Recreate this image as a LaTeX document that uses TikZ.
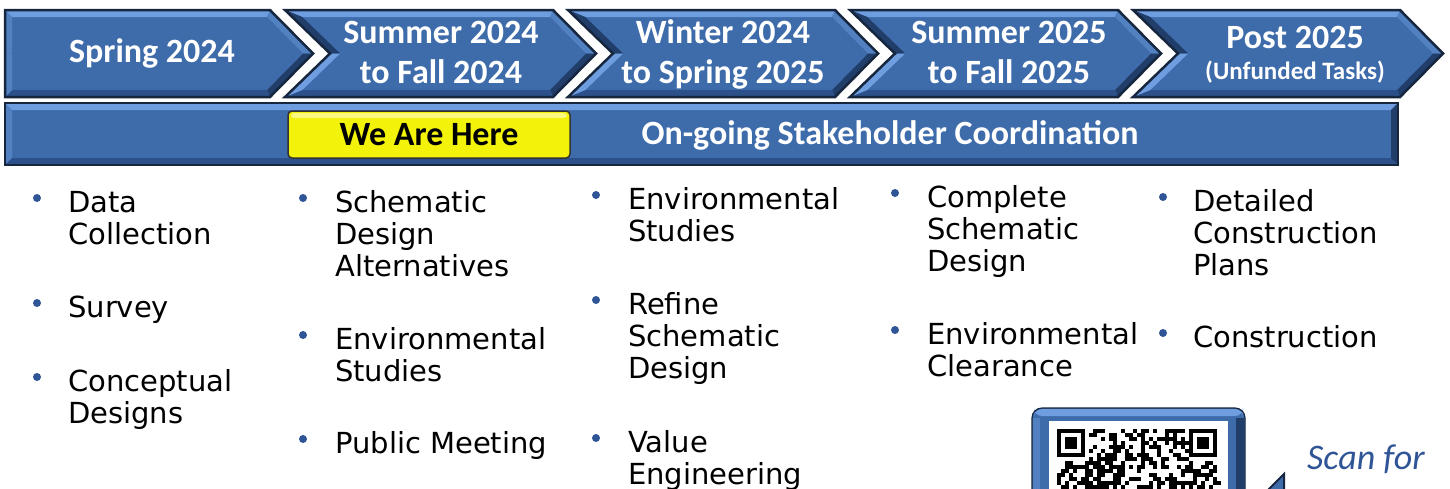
\documentclass[tikz,border=0pt]{standalone}
\usepackage{fontspec}
\setmainfont{DejaVu Sans}
\newfontfamily\hdrfont{Carlito}
\definecolor{cmain}{HTML}{3E6CAB}
\definecolor{clight}{HTML}{6E9EDF}
\definecolor{cmid}{HTML}{5281C2}
\definecolor{cdark}{HTML}{2C5089}
\definecolor{cdarker}{HTML}{213E6B}
\definecolor{cline}{HTML}{17263F}
\definecolor{cbullet}{HTML}{2F5597}
\definecolor{cyel}{HTML}{F2F20A}
\definecolor{cyellight}{HTML}{FAFA80}
\definecolor{cscan}{HTML}{2F5597}
\newcommand\mychev[5]{%
 \pgfmathsetmacro\cL{#1}\pgfmathsetmacro\cR{#2}\pgfmathsetmacro\cN{#3}%
 \pgfmathsetmacro\ilt{#3>0 ? 17.3 : 7}%
 \pgfmathsetmacro\ilm{#3>0 ? #3+10.1 : 7}%
 \fill[cmain] (\cL,10) -- (\cR,10) -- (\cR+43,53.5) -- (\cR,97) -- (\cL,97) -- (\cL+\cN,53.5) -- cycle;
 \fill[clight] (\cL,10) -- (\cR,10) -- (\cR-2.9,17) -- (\cL+\ilt,17) -- cycle;
 \fill[cmid] (\cR,10) -- (\cR+43,53.5) -- (\cR+33.2,53.5) -- (\cR-2.9,17) -- cycle;
 \fill[cdarker] (\cR+43,53.5) -- (\cR,97) -- (\cR-2.9,90) -- (\cR+33.2,53.5) -- cycle;
 \fill[cdark] (\cR,97) -- (\cL,97) -- (\cL+\ilt,90) -- (\cR-2.9,90) -- cycle;
 \fill[#4] (\cL,10) -- (\cL+\ilt,17) -- (\cL+\ilm,53.5) -- (\cL+\cN,53.5) -- cycle;
 \fill[#5] (\cL+\cN,53.5) -- (\cL+\ilm,53.5) -- (\cL+\ilt,90) -- (\cL,97) -- cycle;
 \draw[outline] (\cL,10) -- (\cR,10) -- (\cR+43,53.5) -- (\cR,97) -- (\cL,97) -- (\cL+\cN,53.5) -- cycle;
}
\newcommand\tstrut{\rule{0pt}{24pt}}
\newcommand\hstrut{\rule{0pt}{30pt}}
\begin{document}
\begin{tikzpicture}[x=1pt,y=-1pt,
  outline/.style={draw=cline,line width=2.5pt,line join=miter},
  hdr/.style={text=white,font=\hdrfont\bfseries\fontsize{34}{40}\selectfont,inner sep=0pt,anchor=north,align=center},
  item/.style={text=black,font=\fontsize{29}{32}\selectfont,inner sep=0pt,anchor=north west,align=left},
  dot/.style={circle,fill=cbullet,inner sep=0pt,minimum size=8pt},
  qrmod/.style={fill=black}]
\useasboundingbox (0,0) rectangle (1450,488);
\clip (0,0) rectangle (1450,488);
\fill[white] (0,0) rectangle (1450,488);
% chevrons
\mychev{5}{270}{0}{cmid}{cmid}
\mychev{285}{553}{45}{cdarker}{clight}
\mychev{568}{835}{45}{cdarker}{clight}
\mychev{850}{1118}{45}{cdarker}{clight}
\mychev{1133}{1400}{45}{cdarker}{clight}
\node[hdr] (h1) at (152,62-30) {\hstrut Spring 2024};
\node[hdr] (h2) at (441,43-30) {\hstrut Summer 2024\\to Fall 2024};
\node[hdr] (h3) at (723,43-30) {\hstrut Winter 2024\\to Spring 2025};
\node[hdr] (h4) at (1009,43-30) {\hstrut Summer 2025\\to Fall 2025};
\node[hdr,anchor=base] (h5) at (1295,48) {Post 2025};
\node[hdr,anchor=base,font=\hdrfont\bfseries\fontsize{25}{30}\selectfont] (h5b) at (1295,79) {(Unfunded Tasks)};
% second bar
\fill[cmain] (5,103) rectangle (1398,165);
\fill[clight] (5,103) -- (1398,103) -- (1391,110) -- (12,110) -- cycle;
\fill[cmid] (5,103) -- (12,110) -- (12,158) -- (5,165) -- cycle;
\fill[cdark] (5,165) -- (12,158) -- (1391,158) -- (1398,165) -- cycle;
\fill[cdarker] (1398,103) -- (1391,110) -- (1391,158) -- (1398,165) -- cycle;
\draw[outline] (5,103) rectangle (1398,165);
% we are here
\fill[cyel,draw=black!80,line width=1.5pt,rounded corners=4pt] (288,111) rectangle (570,158);
\fill[cyellight,rounded corners=3pt] (291,113) rectangle (567,118);
\node[font=\hdrfont\bfseries\fontsize{34}{40}\selectfont,text=black,inner sep=0pt,anchor=base] (here) at (429,145) {We Are Here};
\node[hdr,anchor=base] (coord) at (890,144) {On-going Stakeholder Coordination};
% bullet columns
\node[dot] (b11) at (37,198) {};
\node[item] (t11) at (68,212-24) {\tstrut Data\\Collection};
\node[dot] (b12) at (37,303) {};
\node[item] (t12) at (68,317-24) {\tstrut Survey};
\node[dot] (b13) at (37,377) {};
\node[item] (t13) at (68,391-24) {\tstrut Conceptual\\Designs};
\node[dot] (b21) at (303,198) {};
\node[item] (t21) at (335,212-24) {\tstrut Schematic\\Design\\Alternatives};
\node[dot] (b22) at (303,335) {};
\node[item] (t22) at (335,349-24) {\tstrut Environmental\\Studies};
\node[dot] (b23) at (303,439) {};
\node[item] (t23) at (335,453-24) {\tstrut Public Meeting};
\node[dot] (b31) at (596,195) {};
\node[item] (t31) at (628,209-24) {\tstrut Environmental\\Studies};
\node[dot] (b32) at (596,300) {};
\node[item] (t32) at (628,314-24) {\tstrut Refine\\Schematic\\Design};
\node[dot] (b33) at (596,438) {};
\node[item] (t33) at (628,452-24) {\tstrut Value\\Engineering};
\node[dot] (b41) at (895,193) {};
\node[item] (t41) at (927,207-24) {\tstrut Complete\\Schematic\\Design};
\node[dot] (b42) at (895,330) {};
\node[item] (t42) at (927,344-24) {\tstrut Environmental\\Clearance};
\node[dot] (b51) at (1163,197) {};
\node[item] (t51) at (1193,211-24) {\tstrut Detailed\\Construction\\Plans};
\node[dot] (b52) at (1163,333) {};
\node[item] (t52) at (1193,347-24) {\tstrut Construction};
% QR frame
\fill[cmain,rounded corners=10pt] (1032,408) rectangle (1245,620);
\fill[clight,rounded corners=8pt] (1034,409) rectangle (1243,416);
\fill[cdarker] (1236,418) rectangle (1244,620);
\fill[cmid] (1033,418) rectangle (1040,620);
\draw[cline,line width=1.2pt,rounded corners=10pt] (1032,408) rectangle (1245,620);
\fill[white] (1049,421) rectangle (1228,620);
\pgfmathsetseed{11}
\foreach \r in {0,...,15}{
  \foreach \c in {0,...,40}{
    \pgfmathrandominteger{\q}{0}{1}
    \pgfmathtruncatemacro\sk{(\r<8)&&((\c<8)||(\c>32))}
    \ifnum\sk=0 \ifnum\q=1 \fill[qrmod] (1057+4*\c,429+4*\r) rectangle ++(4,4); \fi\fi
  }
}
\foreach \fx in {1057,1189}{
  \fill[black] (\fx,429) rectangle ++(28,28);
  \fill[white] (\fx+4,433) rectangle ++(20,20);
  \fill[black] (\fx+8,437) rectangle ++(12,12);
}
% arrow
\draw[cline,fill=cmain,line width=2pt,line join=miter] (1284,474) -- (1240,518) -- (1284,562) -- cycle;
\node[font=\hdrfont\itshape\fontsize{36}{40}\selectfont,text=cscan,inner sep=0pt,anchor=base west] (scan) at (1307,469) {Scan for};
\end{tikzpicture}
\end{document}
